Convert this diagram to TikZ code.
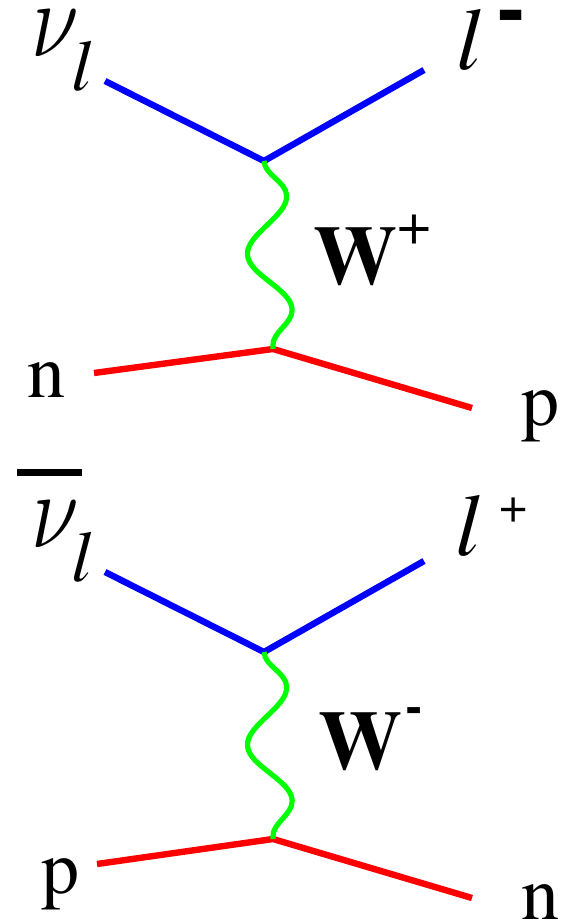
\documentclass[tikz,border=0pt]{standalone}
\usepackage{fontspec}
\setmainfont{texgyretermes}[Extension=.otf,UprightFont=*-regular,BoldFont=*-bold,ItalicFont=*-italic,BoldItalicFont=*-bolditalic]
\usepackage{graphicx}
\usepackage{tikz}
\usetikzlibrary{decorations.pathmorphing}
\definecolor{lepblue}{rgb}{0,0,1}
\definecolor{nucred}{rgb}{1,0,0}
\definecolor{bosgreen}{rgb}{0,1,0}
\newcommand{\fsz}[1]{\fontsize{#1}{#1}\selectfont}
\newcommand{\bignu}{\scalebox{2.1}[2.6]{\fsz{20pt}$\nu$}}

\begin{document}
\begin{tikzpicture}[x=0.5pt,y=-0.5pt,
    lepton/.style={lepblue,line width=3.2pt,line join=round},
    nucleon/.style={nucred,line width=3.2pt,line join=round},
    boson/.style={bosgreen,line width=2.6pt,decorate,decoration={snake,segment length=57pt,amplitude=10.5pt}},
    lbl/.style={anchor=base west,inner sep=0pt}]
          \useasboundingbox (0,0) rectangle (564,924);
          % upper diagram: neutrino + n -> lepton + p
          \coordinate (nuendA) at (105,81);
          \coordinate (vlepA) at (264,161);
          \coordinate (lendA) at (424,70);
          \coordinate (nendA) at (94,373);
          \coordinate (vnucA) at (273,349);
          \coordinate (pendA) at (472,408);
          \draw[lepton] (nuendA) -- (vlepA) -- (lendA);
          \draw[nucleon] (nendA) -- (vnucA) -- (pendA);
          \draw[boson] (vlepA) -- (vnucA);
          \node[lbl] (nuA) at (31,57) {\bignu\kern-4pt\lower17pt\hbox{\itshape\fsz{36pt}l}};
          \node[lbl] (lA) at (456,70) {\itshape\fsz{44pt}l\kern8pt\raisebox{17pt}{\upshape\bfseries\fsz{44pt}-}};
          \node[lbl] (wA) at (313,285) {\bfseries\fsz{42pt}W\raisebox{20pt}{\mdseries\fsz{30pt}+}};
          \node[lbl] (nA) at (27,397) {\fsz{38pt}n};
          \node[lbl] (pA) at (521,425) {\fsz{38pt}p};
          % lower diagram: antineutrino + p -> antilepton + n
          \coordinate (nuendB) at (105,572);
          \coordinate (vlepB) at (264,652);
          \coordinate (lendB) at (424,561);
          \coordinate (pendB) at (97,864);
          \coordinate (vnucB) at (273,839);
          \coordinate (nendB) at (472,898);
          \draw[lepton] (nuendB) -- (vlepB) -- (lendB);
          \draw[nucleon] (pendB) -- (vnucB) -- (nendB);
          \draw[boson] (vlepB) -- (vnucB);
          \node[lbl] (nuB) at (31,547) {\rlap{\kern-7pt\raisebox{35.5pt}{\rule{32.5pt}{3.5pt}}}\bignu\kern-4pt\lower17pt\hbox{\itshape\fsz{36pt}l}};
          \node[lbl] (lB) at (455,555) {\itshape\fsz{44pt}l\kern10pt\raisebox{16.5pt}{\upshape\fsz{25pt}+}};
          \node[lbl] (wB) at (318,769) {\bfseries\fsz{42pt}W\kern1.5pt\raisebox{23.5pt}{\fsz{26pt}-}};
          \node[lbl] (pB) at (41,893) {\fsz{38pt}p};
          \node[lbl] (nB) at (521,919) {\fsz{38pt}n};
\end{tikzpicture}
\end{document}
